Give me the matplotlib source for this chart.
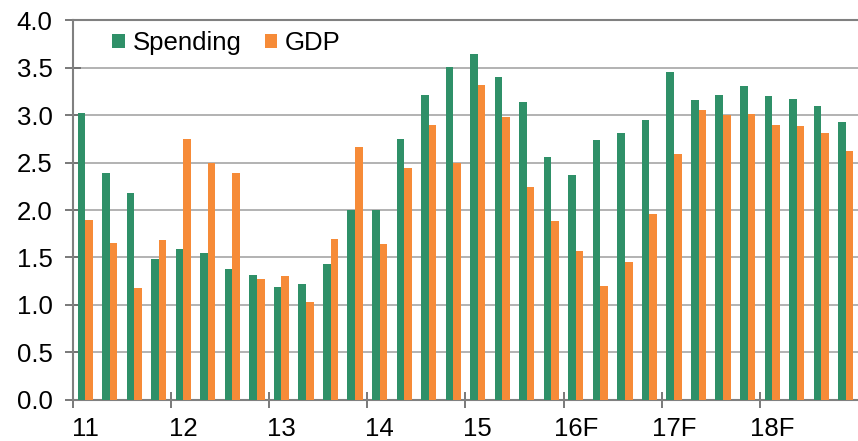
import numpy as np
import matplotlib
matplotlib.use('Agg')
import matplotlib.pyplot as plt

# quarterly data, 2011Q1 - 2018Q4
spending = [3.02, 2.39, 2.18, 1.48, 1.59, 1.55, 1.38, 1.32,
            1.19, 1.22, 1.43, 2.00, 2.00, 2.75, 3.21, 3.51,
            3.64, 3.40, 3.14, 2.56, 2.37, 2.74, 2.81, 2.95,
            3.45, 3.16, 3.21, 3.31, 3.20, 3.17, 3.09, 2.93]
gdp = [1.89, 1.65, 1.18, 1.68, 2.75, 2.49, 2.39, 1.27,
       1.31, 1.03, 1.69, 2.66, 1.64, 2.44, 2.89, 2.49,
       3.32, 2.98, 2.24, 1.88, 1.57, 1.20, 1.45, 1.96,
       2.59, 3.05, 3.00, 3.01, 2.89, 2.88, 2.81, 2.62]
year_labels = ['11', '12', '13', '14', '15', '16F', '17F', '18F']

plt.rcParams['font.family'] = ['Liberation Sans', 'DejaVu Sans']

green = '#2F9068'
orange = '#F68B38'
fs = 18.5

fig = plt.figure(figsize=(8.58, 4.41), dpi=100)
ax = fig.add_axes([0.085, 0.093, 0.915, 0.8616])

x = np.arange(len(spending))
w = 0.31
ax.bar(x + 0.5 - w / 2, spending, w, color=green, label='Spending', zorder=3)
ax.bar(x + 0.5 + w / 2, gdp, w, color=orange, label='GDP', zorder=3)

ax.set_xlim(0, len(spending))
ax.set_ylim(0, 4.0)
yt = np.arange(0, 4.01, 0.5)
ax.set_yticks(yt)
ax.set_yticklabels(['%.1f' % v for v in yt], fontsize=fs)
ax.yaxis.grid(True, color='#A6A6A6', linewidth=1.2, zorder=0)

# year ticks at boundaries, labels under the first quarter
ax.set_xticks(np.arange(0, len(spending), 4))
ax.set_xticklabels([])
ax.set_xticks(np.arange(0, len(spending), 4) + 0.5, minor=True)
ax.set_xticklabels(year_labels, minor=True, fontsize=fs)
ax.tick_params(axis='x', which='major', length=11.5, width=1.3, color='#6E6E6E', direction='inout')
ax.tick_params(axis='x', which='minor', length=0, pad=12)
ax.tick_params(axis='y', length=11.5, width=1.3, color='#6E6E6E', direction='inout', pad=9)

for s in ['left', 'bottom', 'top']:
    ax.spines[s].set_color('#808080')
    ax.spines[s].set_linewidth(1.5)
ax.spines['right'].set_visible(False)

ax.legend(loc='center left', bbox_to_anchor=(0.0497, 0.939), ncol=2, frameon=False,
          fontsize=fs, handlelength=0.5, handleheight=0.5, handletextpad=0.3,
          columnspacing=0.9, borderpad=0, borderaxespad=0)

fig.savefig('out.png', dpi=100)
